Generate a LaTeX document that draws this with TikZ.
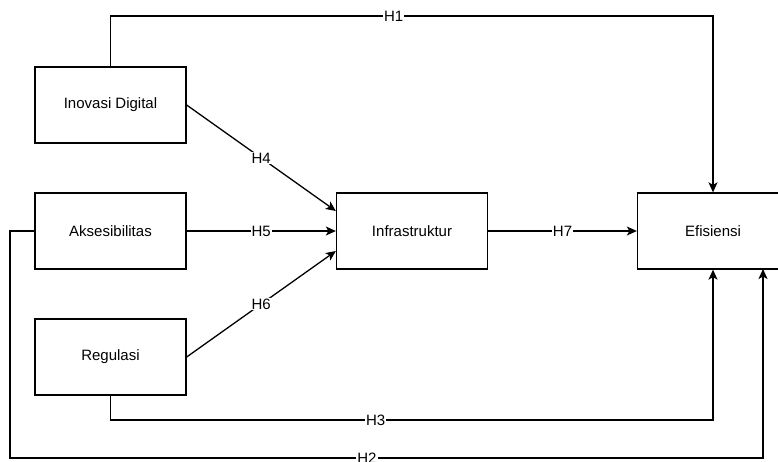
\documentclass[tikz,border=0pt]{standalone}
\usepackage{fontspec}
\setmainfont{Liberation Sans}
\usetikzlibrary{arrows.meta}
\begin{document}
\begin{tikzpicture}[x=1pt,y=-1pt,
  box/.style={draw, line width=1.3pt, minimum width=151pt, minimum height=76pt, inner sep=0pt, font=\fontsize{15}{17}\selectfont},
  conn/.style={line width=1.3pt, -{Stealth[length=10pt,width=9pt,inset=2.5pt]}},
  lbl/.style={fill=white, inner sep=1pt, font=\fontsize{15}{17}\selectfont}]
\useasboundingbox (0,0) rectangle (778,461);
\node[box] (ino) at (110.5,105) {Inovasi Digital};
\node[box] (aks) at (110.5,231) {Aksesibilitas};
\node[box] (reg) at (110.5,357) {Regulasi};
\node[box] (inf) at (412,231) {Infrastruktur};
\node[box] (efi) at (713,231) {Efisiensi};
\coordinate (h1a) at (110.5,16);
\coordinate (h1b) at (713,16);
\coordinate (h3a) at (110.5,420);
\coordinate (h3b) at (713,420);
\coordinate (h2a) at (10,231);
\coordinate (h2b) at (10,458);
\coordinate (h2c) at (763,458);
\coordinate (h2d) at (763,269);
\draw[conn] (ino.north) -- (h1a) -- node[lbl,pos=0.47]{H1} (h1b) -- (efi.north);
\draw[conn] (ino.east) -- node[lbl]{H4} (inf.west |- 0,211);
\draw[conn] (aks.east) -- node[lbl]{H5} (inf.west);
\draw[conn] (reg.east) -- node[lbl]{H6} (inf.west |- 0,251);
\draw[conn] (inf.east) -- node[lbl]{H7} (efi.west);
\draw[conn] (reg.south) -- (h3a) -- node[lbl,pos=0.44]{H3} (h3b) -- (efi.south);
\draw[conn] (aks.west) -- (h2a) -- (h2b) -- node[lbl,pos=0.474]{H2} (h2c) -- (h2d);
\end{tikzpicture}
\end{document}
